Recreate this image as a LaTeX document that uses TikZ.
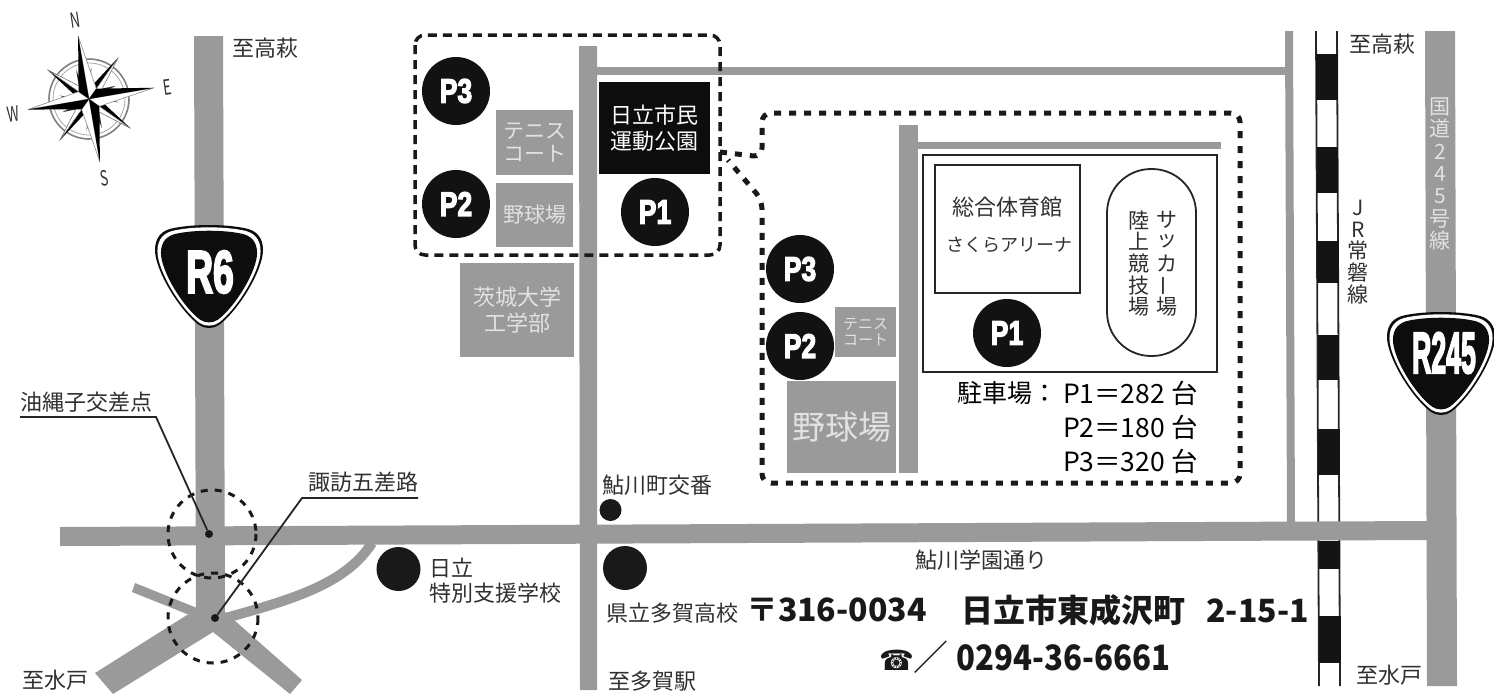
\documentclass[tikz,border=0pt]{standalone}
\usepackage{fontspec}
\usepackage{graphicx}
\setmainfont{Noto Sans CJK JP}
\newfontfamily\heavy[FakeBold=4]{Liberation Sans Bold}
\newfontfamily\dejavu{DejaVu Sans}
\definecolor{road}{HTML}{9A9A9A}
\definecolor{ink}{HTML}{303030}
\definecolor{pale}{HTML}{E2E2E2}
\newcommand\fs[1]{\fontsize{#1}{#1}\selectfont}
\newcommand\hv[3]{\scalebox{#1}[1]{\fontsize{#2}{#2}\heavy #3}}
\newcommand\shieldpath{(-35,3) .. controls (-15,-1) and (15,-1) .. (35,3) .. controls (47,5) and (54,12) .. (54,25) .. controls (54,45) and (30,85) .. (10,100) .. controls (4,104) and (-4,104) .. (-10,100) .. controls (-30,85) and (-54,45) .. (-54,25) .. controls (-54,12) and (-47,5) .. (-35,3) -- cycle}
\tikzset{
  x=1pt,y=-1pt,
  lab/.style={inner sep=0pt,outer sep=0pt,text=ink,font=\fs{22}},
  laba/.style={lab,anchor=west},
  stack/.style={inner sep=0pt,text=ink,align=center},
  box/.style={fill=road,draw=none},
  pale text/.style={inner sep=0pt,text=pale,align=center},
  pcircle/.style={circle,fill=black!93,minimum size=68pt,inner sep=0pt,text=white},
  dot/.style={circle,fill=black!90,inner sep=0pt},
  leader/.style={line width=1.8pt,black!85},
  ldash/.style={line width=3.5pt,black!90,dash pattern=on 9pt off 6pt,rounded corners=10pt},
  rdash/.style={line width=5pt,black!90,dash pattern=on 7pt off 8pt,rounded corners=9pt},
  cdash/.style={line width=3pt,black!90,dash pattern=on 7pt off 7pt},
  wall/.style={line width=1.8pt,black!85},
}
\begin{document}
\begin{tikzpicture}
\useasboundingbox (0,0) rectangle (1494,694);
\fill[white] (0,0) rectangle (1494,694);
% railway
\draw[line width=1.8pt,black!85] (1316,31) -- (1319,686);
\draw[line width=1.8pt,black!85] (1337,31) -- (1340,686);
\foreach \a/\b/\sx in {54/100/1316.2,147/193/1316.6,241/283/1317,335/380/1317.5,429/475/1318,541/569/1318.5,616/663/1319}
  \fill[black!92] (\sx,\a) rectangle (\sx+21.5,\b);
% roads
\fill[road] (194,36) -- (223,36) -- (225,615) -- (196,615) -- cycle;
\fill[road] (579,46) -- (597,46) -- (597,690) -- (580,690) -- cycle;
\fill[road] (1425,31) -- (1455,31) -- (1457,686) -- (1427,686) -- cycle;
\fill[road] (1285,31) -- (1293,31) -- (1295,524) -- (1287,524) -- cycle;
\fill[road] (597,67) -- (1285,67) -- (1285,75) -- (597,75) -- cycle;
\fill[road] (60,527) -- (1430,521) -- (1430,540) -- (60,546) -- cycle;
\fill[road] (135,583) -- (197,608) -- (197,618) -- (132,592) -- cycle;
\fill[road] (95,673) -- (187,615) -- (225,612) -- (302,680) -- (290,694) -- (213,632) -- (113,694) -- cycle;
\draw[road,line width=10pt] (222,619) .. controls (290,600) and (345,585) .. (372,543);
% inner park roads
\fill[road] (899,125) rectangle (918,473);
\fill[road] (918,142) rectangle (1221,149);
% grey plots, left
\node[box,minimum width=77pt,minimum height=65pt,inner sep=0pt] (tennisA) at (534.5,142.5) {};
\node[pale text,font=\fs{21}] at (tennisA) {\shortstack{テニス\\[2pt]コート}};
\node[box,minimum width=77pt,minimum height=64pt,inner sep=0pt] (baseA) at (534.5,215) {};
\node[pale text,font=\fs{21}] at (baseA) {野球場};
\node[box,minimum width=114pt,minimum height=94pt,inner sep=0pt] (univ) at (517,310) {};
\node[pale text,font=\fs{22}] at (univ) {\shortstack{茨城大学\\[3pt]工学部}};
\node[fill=black!95,minimum width=111pt,minimum height=92pt,inner sep=0pt,text=white,font=\fs{22}] (park) at (654.5,128) {\shortstack{日立市民\\[3pt]運動公園}};
% circles left
\node[pcircle] (p3a) at (456,91) {\hv{.78}{34}{P3}};
\node[pcircle] (p2a) at (456,204) {\hv{.78}{34}{P2}};
\node[pcircle] (p1a) at (655,212) {\hv{.78}{34}{P1}};
% dashed boxes
\draw[ldash] (415,35) rectangle (720,255);
\draw[rdash] (720,152) -- (762,157) -- (762,113) -- (1240,113) -- (1240,483) -- (762,483) -- (762,200) -- (728,160);
% right inner
\node[box,minimum width=61pt,minimum height=50pt,inner sep=0pt] (tennisB) at (865.5,332) {};
\node[pale text,font=\fs{15}] at (tennisB) {\shortstack{テニス\\[1pt]コート}};
\node[box,minimum width=109pt,minimum height=92pt,inner sep=0pt] (baseB) at (841.5,427) {};
\node[pale text,font=\fs{33}] at (baseB) {野球場};
\node[pcircle] (p3b) at (800,269) {\hv{.78}{34}{P3}};
\node[pcircle] (p2b) at (800,346) {\hv{.78}{34}{P2}};
\draw[wall] (923,155) rectangle (1217,372);
\draw[wall] (935,165) rectangle (1080,293);
\draw[wall,rounded corners=44pt] (1107,169) rectangle (1196,356);
\node[pcircle] (p1b) at (1007,333) {\hv{.78}{34}{P1}};
\node[lab,font=\fs{22}] (gym) at (1007,207) {総合体育館};
\node[lab,font=\fs{18}] (arena) at (1009,245) {さくらアリーナ};
\node[stack,font=\fontsize{21}{21.6}\selectfont] (track) at (1139,263.5) {陸\\上\\競\\技\\場};
\node[lab,font=\fs{21}] (sa) at (1167,220) {サ};
\node[lab,font=\fs{21}] (sb) at (1167,241.5) {ッ};
\node[lab,font=\fs{21}] (sc) at (1167,263.5) {カ};
\node[lab,font=\fs{21},rotate=90] (sd) at (1167,285.5) {ー};
\node[lab,font=\fs{21}] (se) at (1167,307) {場};
\node[laba,text=black,font=\fs{25}] (parkhead) at (957,393) {駐車場：};
\node[laba,text=black,font=\fs{26.5}] (parkA) at (1063,393) {P1＝282 台};
\node[laba,text=black,font=\fs{26.5}] (parkB) at (1063,427) {P2＝180 台};
\node[laba,text=black,font=\fs{26.5}] (parkC) at (1063,461) {P3＝320 台};
% shields
\begin{scope}[shift={(209,225)}]
\fill[black!95] \shieldpath;
\begin{scope}[shift={(0,52)},scale=.955,shift={(0,-52)}]\fill[white] \shieldpath;\end{scope}
\begin{scope}[shift={(0,52)},scale=.89,shift={(0,-52)}]\fill[black!95] \shieldpath;\end{scope}
\end{scope}
\node[inner sep=0pt,text=white] (r6) at (210,272) {\hv{.62}{60}{R6}};
\begin{scope}[shift={(1441,312)}]
\fill[black!95] \shieldpath;
\begin{scope}[shift={(0,52)},scale=.955,shift={(0,-52)}]\fill[white] \shieldpath;\end{scope}
\begin{scope}[shift={(0,52)},scale=.89,shift={(0,-52)}]\fill[black!95] \shieldpath;\end{scope}
\end{scope}
\node[inner sep=0pt,text=white] (r245) at (1444,353) {\hv{.46}{58}{R245}};
% junction circles and leaders
\draw[cdash] (212,534) circle (44);
\draw[cdash] (213,618) circle (45);
\node[dot,minimum size=8pt] (oki) at (209,534) {};
\node[dot,minimum size=8pt] (suwa) at (215,618) {};
\node[laba,font=\fs{22}] (okilab) at (20,402) {油縄子交差点};
\node[laba,font=\fs{22}] (suwalab) at (308,482) {諏訪五差路};
\coordinate (o1) at (20,417); \coordinate (o2) at (156,417);
\coordinate (s1) at (418,498); \coordinate (s2) at (302,498);
\draw[leader] (o1) -- (o2) -- (oki);
\draw[leader] (s1) -- (s2) -- (suwa);
% landmarks
\node[dot,minimum size=22pt] (koban) at (610.5,510) {};
\node[laba] (kobanlab) at (602,485) {鮎川町交番};
\node[dot,minimum size=44pt] (school) at (398.5,569) {};
\node[laba] (schoolA) at (429,568) {日立};
\node[laba] (schoolB) at (429,593) {特別支援学校};
\node[dot,minimum size=44pt] (taga) at (625,568) {};
\node[laba] (tagalab) at (606,613) {県立多賀高校};
\node[laba] (ave) at (915,560) {鮎川学園通り};
% destinations
\node[laba] (d1) at (232,48) {至高萩};
\node[laba] (d2) at (1349,44) {至高萩};
\node[laba] (d3) at (22,680) {至水戸};
\node[laba] (d4) at (1356,675) {至水戸};
\node[laba] (d5) at (608,681) {至多賀駅};
\node[stack,font=\fontsize{21}{21.8}\selectfont] (jr) at (1358,252) {J\\R\\常\\磐\\線};
\node[stack,text=pale,font=\fontsize{21}{22.4}\selectfont] (r245lab) at (1440,174) {国\\道\\2\\4\\5\\号\\線};
% address
\node[laba,text=black!90,font=\fs{32}\bfseries] (zip) at (746,610) {〒316-0034};
\node[laba,text=black!90,font=\fs{32}\bfseries] (addr) at (961,610) {日立市東成沢町\hspace{14pt} 2-15-1};
\node[laba,text=black!90,font=\fs{35}\bfseries] (tel) at (879,657) {{\dejavu\fs{28}☎}{\mdseries ／} \scalebox{.89}[1]{0294-36-6661}};
% compass
\begin{scope}[shift={(89,99)},x={(.985pt,.17pt)},y={(.17pt,-.985pt)}]
\draw[black!50,line width=1.6pt] (0,0) circle (40);
\draw[black!35,line width=.8pt] (0,0) circle (36);
\foreach \p/\q/\r/\s in {0/-26/-6/-22, 0/-26/6/-22, 26/0/22/-6, 26/0/22/6, 0/26/-6/22, 0/26/6/22, -26/0/-22/-6, -26/0/-22/6}
  \fill[black!80] (\r*.6,\s*.6) -- (\r*1.3,\s*1.4) -- (\q*.3,-\p*.3) -- cycle;
\foreach \a/\b in {36/-36,36/36,-36/36,-36/-36}{
  \fill[black] (0,0) -- (\a,\b) -- (\a*.12+\b*.12,\b*.12-\a*.12) -- cycle;
  \filldraw[fill=white,draw=black!60,line width=.5pt] (0,0) -- (\a,\b) -- (\a*.12-\b*.12,\b*.12+\a*.12) -- cycle;
}
\filldraw[fill=white,draw=black!45,line width=.6pt] (0,0) -- (0,-64) -- (9,-9) -- cycle;
\filldraw[fill=white,draw=black!45,line width=.6pt] (0,0) -- (66,0) -- (9,9) -- cycle;
\filldraw[fill=white,draw=black!45,line width=.6pt] (0,0) -- (0,64) -- (-9,9) -- cycle;
\filldraw[fill=white,draw=black!45,line width=.6pt] (0,0) -- (-62,0) -- (-9,-9) -- cycle;
\fill[black] (0,0) -- (0,-64) -- (-9,-9) -- cycle;
\fill[black] (0,0) -- (66,0) -- (9,-9) -- cycle;
\fill[black] (0,0) -- (0,64) -- (9,9) -- cycle;
\fill[black] (0,0) -- (-62,0) -- (-9,9) -- cycle;
\end{scope}
\node[lab,rotate=8,font=\fs{21}] (cn) at (75,20) {\scalebox{.65}[1]{N}};
\node[lab,rotate=8,font=\fs{21}] (ce) at (167,87) {\scalebox{.65}[1]{E}};
\node[lab,rotate=8,font=\fs{21}] (cs) at (104,178) {\scalebox{.65}[1]{S}};
\node[lab,rotate=8,font=\fs{21}] (cw) at (13,114) {\scalebox{.65}[1]{W}};
\end{tikzpicture}
\end{document}
